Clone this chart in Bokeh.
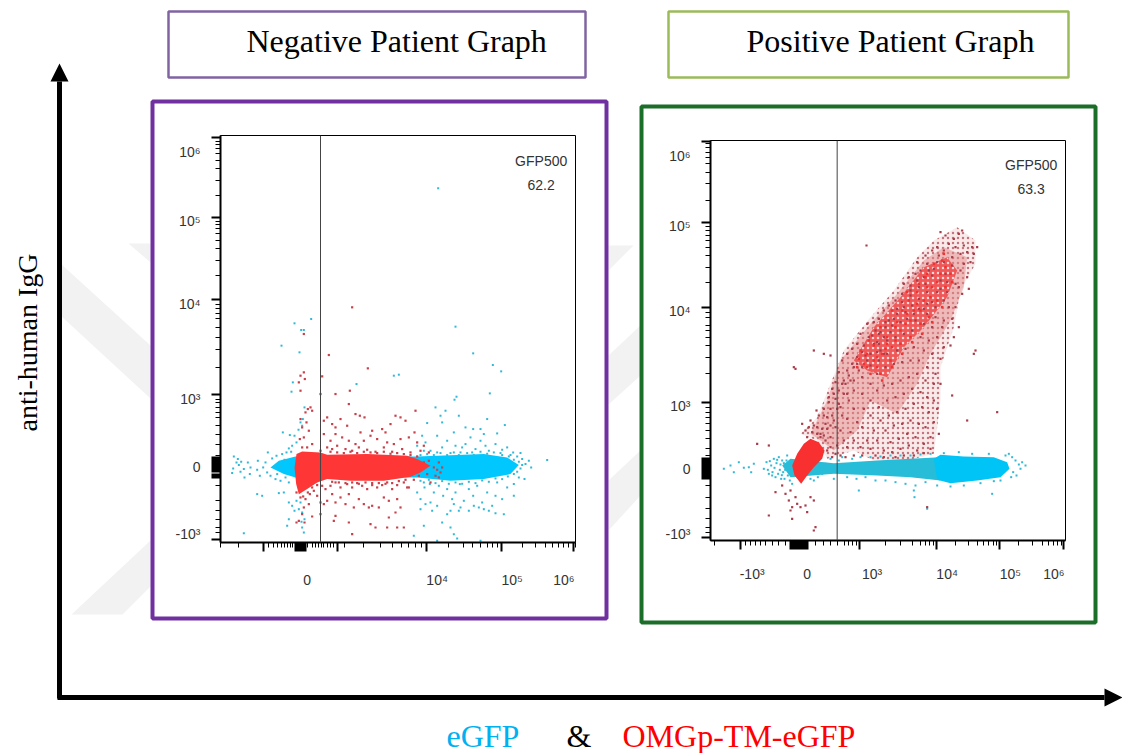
from bokeh.plotting import figure
from bokeh.models import Range1d, Arrow, NormalHead, LinearAxis, FixedTicker, Span, Label
from bokeh.embed import file_html
from bokeh.resources import INLINE

# Display-channel units (biexponential display scale).
NEG_X_MAJOR = [130, 225, 228, 231, 234, 237, 240, 243, 246, 249, 252, 255, 352, 618, 843, 1060]
NEG_X_MINOR = [0, 55, 145, 160, 172, 183, 192, 201, 210, 217, 262, 275, 285, 295, 303, 310, 320, 330, 340, 372, 430, 480, 515, 542, 565, 585, 602, 685, 730, 755, 780, 800, 815, 830, 905, 945, 975, 995, 1015, 1030, 1045, 1065]
NEG_Y_MAJOR = [10, 195, 200, 205, 212, 216, 222, 226, 232, 237, 243, 250, 255, 443, 727, 975, 1215]
NEG_Y_MINOR = [30, 45, 70, 95, 125, 170, 260, 295, 325, 350, 375, 390, 405, 420, 430, 525, 580, 615, 645, 670, 685, 700, 713, 800, 845, 880, 905, 925, 940, 953, 963, 1040, 1085, 1120, 1145, 1165, 1180, 1193, 1203]
POS_X_MAJOR = [90, 240, 244, 248, 252, 256, 262, 266, 270, 276, 280, 284, 290, 448, 677, 867, 1058]
POS_X_MINOR = [12, 105, 120, 135, 150, 165, 185, 205, 225, 315, 338, 360, 380, 402, 415, 427, 438, 525, 570, 605, 630, 645, 658, 668, 735, 775, 800, 820, 835, 848, 858, 925, 965, 995, 1015, 1030, 1042, 1052]
POS_Y_MAJOR = [10, 185, 190, 196, 202, 206, 212, 218, 224, 228, 234, 240, 245, 415, 698, 953, 1198]
POS_Y_MINOR = [25, 40, 65, 95, 130, 165, 255, 275, 305, 330, 350, 370, 385, 400, 500, 550, 585, 610, 630, 645, 670, 685, 775, 820, 855, 880, 900, 915, 930, 942, 1020, 1070, 1105, 1130, 1150, 1165, 1180, 1190]

NEG_X_LABELS = {260: "0", 650: "10⁴", 875: "10⁵", 1030: "10⁶"}
NEG_Y_LABELS = {1170: "10⁶", 963: "10⁵", 715: "10⁴", 430: "10³", 227: "0", 25: "-10³"}
POS_X_LABELS = {125: "-10³", 290: "0", 485: "10³", 710: "10⁴", 900: "10⁵", 1030: "10⁶"}
POS_Y_LABELS = {1155: "10⁶", 945: "10⁵", 690: "10⁴", 405: "10³", 215: "0", 20: "-10³"}
NEG_GATE = 300
POS_GATE = 380
NEG_STAT = ["GFP500", "62.2"]
POS_STAT = ["GFP500", "63.3"]

# Solid, saturated parts of each population, outlined from the picture.
NEG_BLUE_CORE = [(150,225),(175,245),(225,258),(590,258),(790,265),(860,255),(895,232),(870,205),(790,190),(690,185),(590,195),(225,195),(190,205)]
NEG_RED_CORE = [(222,225),(228,265),(245,273),(300,270),(320,263),(440,265),(560,260),(590,250),(630,230),(600,210),(570,197),(490,185),(390,185),(320,190),(290,180),(260,160),(235,145),(227,175)]
POS_BLUE_BAND = [(215,225),(240,245),(370,232),(500,240),(600,245),(690,250),(690,180),(600,190),(500,195),(370,200),(240,190)]
POS_BLUE_CORE = [(670,245),(690,257),(760,252),(850,250),(890,235),(897,215),(870,190),(800,180),(720,172),(680,182)]
POS_RED_CORE = [(245,225),(260,260),(280,290),(300,305),(325,295),(342,270),(335,245),(310,220),(290,195),(272,170),(252,195)]
POS_RED_CLOUD = [(270,320),(320,370),(360,470),(400,570),(480,670),(550,750),(620,850),(670,900),(740,940),(795,900),(795,830),(750,750),(730,640),(690,520),(690,420),(670,260),(590,240),(490,240),(430,270),(350,245),(320,300)]
POS_RED_MID = [(300,320),(350,420),(390,540),(480,650),(560,740),(640,840),(700,880),(770,850),(760,760),(720,660),(660,560),(620,470),(560,380),(480,420),(440,330),(370,270),(330,300)]
POS_RED_DENSE = [(430,540),(490,640),(570,730),(640,820),(710,850),(740,810),(710,730),(640,640),(580,580),(530,490),(470,510)]

NEG_BLUE = [(653,1062),(705,647),(758,567),(817,532),(842,513),(808,447),(222,657),(272,670),(242,637),(250,637),(183,590),(237,570),(408,475),(520,500),(535,503),(217,480),(213,452),(708,437),(702,428),(645,405),(675,395),(660,380),(665,360),(715,380),(620,358),(800,370),(853,352),(758,340),(780,340),(830,327),(187,330),(208,322),(222,320),(234,338),(240,360),(247,370),(252,405),(245,350),(228,300),(215,290),
(40,258),(52,250),(48,240),(38,222),(35,208),(55,232),(62,242),(70,220),(60,212),(72,195),(90,225),(88,205),(82,240),(110,218),(112,245),(118,200),(128,225),(135,240),(140,210),(142,270),(155,252),(162,228),(168,260),(170,205),(178,230),(185,265),(192,248),(198,270),(205,282),(212,272),(150,200),(165,190),(180,185),(195,195),(205,180),(190,150),(175,148),(110,145),(125,140),(205,120),(215,110),(222,95),(70,28),(200,50),(205,70),(228,125),(235,100),(240,120),(245,90),(252,70),(243,62),(250,30),(245,45),
(590,290),(615,300),(630,275),(650,320),(665,285),(680,305),(700,330),(705,290),(720,270),(735,295),(750,315),(765,280),(780,305),(795,290),(805,275),(825,295),(840,268),(860,285),(878,270),(890,258),(905,250),(925,245),(932,225),(915,235),(900,268),(870,262),(845,278),(755,270),(725,285),(690,268),(610,275),(650,270),(790,325),(735,345),(605,320),(980,247),
(600,185),(612,165),(628,175),(640,150),(655,170),(668,140),(680,160),(695,130),(705,150),(718,175),(730,125),(745,160),(758,140),(770,170),(785,120),(800,150),(815,110),(830,180),(845,130),(860,165),(880,175),(895,195),(912,190),(630,120),(615,115),(600,100),(650,110),(690,95),(700,115),(715,95),(680,85),(720,105),(775,105),(790,100),(805,95),(825,88),(850,85),(610,50),(690,45),(580,20),(650,5),(780,5),(700,25),(710,12),(600,130),(635,95),(665,60),(590,150),(880,140),(825,140),(760,110),(745,95),
(600,262),(620,265),(640,262),(660,268),(680,262),(700,270),(715,262),(740,268),(760,262),(780,272),(800,266),(820,270),(845,262),(865,258),(880,248),(895,242),(905,232),(900,222),(890,212),(880,205),(862,198),(845,190),(825,192),(805,182),(785,186),(765,178),(745,182),(725,176),(705,180),(685,176),(665,184),(645,178),(625,188),(610,180)]

NEG_RED = [(395,705),(250,625),(325,562),(442,522),(305,498),(300,445),(250,510),(240,500),(235,480),(253,490),(240,455),(345,445),(388,455),(385,415),(405,385),(418,380),(432,375),(270,405),(262,400),(255,390),(275,395),(240,370),(245,345),(258,360),(265,335),(250,315),(238,310),(320,375),(310,365),(335,355),(345,345),(360,370),(380,350),(525,380),(540,375),(555,365),(510,355),(585,395),(485,340),(455,335),(495,330),(450,320),(470,310),(420,330),(345,325),(310,325),(330,305),(365,315),(385,305),(405,295),(430,305),(500,300),(520,295),(540,310),(565,315),(582,330),(590,300),(610,290),(625,270),(350,290),(320,285),(335,280),(300,275),(375,280),(395,275),(415,285),(440,278),(465,272),(490,285),(515,272),(545,280),(570,270),(600,275),(260,285),(275,295),(245,285),
(240,135),(228,150),(255,130),(268,145),(280,155),(265,115),(250,105),(245,85),(235,65),(228,60),(252,60),(275,78),(290,140),(300,120),(305,170),(315,160),(330,170),(345,180),(360,165),(380,175),(395,165),(410,178),(425,170),(440,160),(455,178),(470,165),(485,172),(500,180),(515,160),(530,172),(550,180),(565,165),(580,188),(595,200),(320,125),(335,145),(345,120),(360,135),(375,115),(385,145),(400,105),(415,130),(430,115),(445,105),(455,110),(475,105),(490,135),(505,125),(530,130),(540,105),(560,165),(345,80),(340,65),(385,60),(395,25),(465,45),(450,55),(500,45),(530,45),(550,45),(505,75),(525,90),(310,115),(300,85),(640,225),(650,218),(660,210),(645,200),(620,205),(610,240),(625,245),(665,225),(655,195),(630,180),(655,240),
(330,272),(350,270),(370,268),(390,272),(410,268),(430,272),(450,270),(470,268),(490,272),(510,266),(530,268),(550,265),(570,262),(590,258),(335,182),(355,180),(375,178),(395,180),(415,176),(435,180),(455,172),(475,178),(495,176),(515,178),(535,184),(555,188),(290,172),(275,165),(262,150),(248,138)]

POS_BLUE = [(60,225),(70,205),(85,235),(100,218),(115,220),(130,230),(122,205),(40,215),(160,215),(168,235),(175,200),(182,225),(190,245),(195,190),(205,250),(215,240),(222,185),(230,255),(238,180),(245,170),(300,185),(310,180),(322,190),(335,200),(345,230),(360,245),(370,185),(385,240),(395,250),(410,190),(425,245),(438,185),(450,250),(465,190),(480,250),(495,180),(510,252),(525,180),(540,255),(555,175),(570,255),(585,170),(600,255),(615,165),(630,258),(645,175),(660,260),(680,165),(700,262),(720,162),(745,265),(760,165),(785,260),(810,172),(835,260),(850,178),(870,180),(885,255),(905,250),(915,240),(925,228),(930,215),(918,195),(902,190),(908,205),(935,235),(945,225),(895,260),(845,140),(610,150),(612,130),(650,95),(445,150),
(172,212),(178,238),(186,205),(192,218),(198,232),(203,200),(208,212),(210,228),(214,196),(218,205),(220,232),(224,212),(228,240),(232,195),(185,195),(200,242),(212,185)]

POS_RED = [(468,885),(800,880),(510,570),(520,560),(340,560),(310,570),(250,520),(255,515),(360,555),(790,560),(795,570),(725,435),(860,385),(770,360),(310,30),(315,40),(650,100),(175,285),(140,290),(175,75),(245,100),(240,90),(235,120),(260,110),(270,100),(285,105),(225,140),(240,150),(255,130),(215,165),(195,145),(300,130),(310,120),(290,85),(245,65),
(690,925),(705,915),(730,905),(745,920),(755,930),(735,880),(715,890),(760,885),(785,880),(790,860),(770,865),(750,860),(725,850),(780,835),(760,830),(700,870),(680,880),(665,870),(645,855),(620,835),(650,830),(680,835),(705,800),(735,770),(745,760),(755,740),(770,790),(775,755),(710,775),(690,780),(665,795),(640,790),(615,800),(595,790),(580,770),(600,765),(625,760),(650,745),(680,745),(700,720),(715,700),(725,665),(735,700),(745,640),(730,610),(720,585),(700,660),(675,700),(650,710),(625,725),(600,735),(575,740),(555,720),(535,705),(520,690),(505,665),(490,655),(470,650),(450,620),(440,590),(425,575),(410,560),(395,540),(385,505),(375,475),(365,455),(355,430),(340,395),(325,375),(310,345),
(560,695),(580,700),(605,705),(625,695),(650,680),(675,670),(695,640),(665,640),(640,650),(615,660),(590,665),(570,655),(545,645),(525,640),(505,620),(485,615),(460,585),(440,550),(425,530),(410,510),(400,480),(385,450),(375,425),(360,395),(350,370),(335,335),(320,320),(350,335),(370,360),(390,400),(410,440),(430,480),(455,520),(480,560),(505,590),(530,600),(555,610),(580,620),(605,630),(630,610),(655,600),(680,610),(700,580),(690,545),(665,560),(640,570),(610,580),(585,575),(560,570),(530,560),(505,540),(480,525),(455,490),(430,450),(415,420),(395,375),(375,340),(360,310),(390,330),(410,365),(430,395),(455,440),(480,470),(500,500),(525,520),(550,530),(575,535),(600,540),(625,540),(650,520),(675,500),(690,470),(670,470),(645,480),(620,500),(595,490),(570,480),(545,470),(520,465),(500,450),(480,420),(460,395),(440,355),(420,325),(400,300),(380,285),(410,280),(430,300),(455,340),(480,375),(505,400),(530,420),(555,430),(580,440),(605,455),(630,445),(650,430),(670,420),(680,395),(655,385),(635,400),(610,410),(585,395),(560,385),(535,375),(510,360),(490,330),(470,300),(450,280),(430,255),(455,255),(480,275),(500,300),(525,330),(550,345),(575,350),(600,360),(625,350),(645,340),(670,355),(685,320),(660,310),(640,290),(615,310),(590,320),(565,305),(540,295),(520,270),(495,255),(520,250),(545,265),(570,275),(595,285),(620,270),(640,262),(660,275),(610,255),(580,255),(555,250),
(500,595),(520,610),(540,625),(500,565),(470,540),(445,510),(420,480),(400,440),(385,410),(365,375),(345,350),(330,320),(305,325),(295,340),(285,330),(275,350),(300,360),(318,390),(340,375),(355,415),(370,440),(395,470),(415,495),(440,530),(465,555),(490,590),(510,625),(535,660),(560,680),(585,685),(610,680),(640,695),(665,715),(690,755),(710,745),(645,770),(620,780),(670,815),(700,835),(725,825),(750,810),(685,855),(655,810),(630,810),(600,750),(575,715),(550,665),(525,655),(495,630),(475,610),(455,565),(430,520),(405,470),(380,395),(360,345),(340,315),(320,340),(290,310),(345,300),(360,280),(375,260),(390,255),(405,250),(330,310),(350,270),(365,250)]

POS_RED_BRIGHT = [(445,545),(470,560),(490,585),(500,520),(515,560),(530,610),(555,640),(575,690),(595,720),(620,745),(645,790),(670,830),(695,840),(720,800),(705,760),(680,720),(655,670),(630,650),(600,610),(570,590),(540,540),(510,500),(480,500),(460,530),(490,540),(525,575),(555,600),(585,650),(610,690),(640,720),(665,760),(690,800),(650,760),(620,710),(590,680),(560,655),(530,590),(500,550),(470,520),(440,520),(545,580),(570,630),(600,660),(630,690),(660,730),(680,775),(705,820),(725,775),(695,700),(665,655),(635,620),(605,595),(575,560),(545,520),(515,480),(700,860),(650,800),(625,770),(590,745),(545,690),(510,640),(475,600),(450,570)]

bg = figure(width=1122, height=753, output_backend="svg", toolbar_location=None, x_range=Range1d(0, 1122), y_range=Range1d(753, 0), min_border=0, x_axis_type=None, y_axis_type=None, outline_line_color=None, background_fill_color="white", border_fill_color="white",
            styles={"position": "absolute", "left": "0px", "top": "0px"})
bg.grid.visible = False

for poly_ in [[(60,263),(150,345),(150,398),(60,315)], [(128,243),(150,243),(150,262)], [(71,614),(122,614),(150,586),(150,540)],
              [(608,245),(633,245),(608,270)], [(608,355),(640,325),(640,375),(608,404)], [(608,480),(640,450),(640,495),(608,530)]]:
    bg.patch([q[0] for q in poly_], [q[1] for q in poly_], fill_color="#f2f2f2", line_color=None)


def box(l, r, t, b, colour, width):
    bg.quad(left=[l], right=[r], top=[t], bottom=[b], fill_color=None, line_color=colour, line_width=width)


box(168, 585, 11, 77, "#8064a2", 2.5)
box(668, 1068, 11, 77, "#9bbb59", 2.5)
box(152, 606, 101, 618, "#7030a0", 4)
box(641, 1095, 106, 622, "#1b6e28", 4)

for (x0, y0, x1, y1) in [(59, 698, 59, 63), (57, 697, 1122, 697)]:
    bg.add_layout(Arrow(end=NormalHead(size=18, fill_color="black", line_color="black", line_width=0),
                        x_start=x0, y_start=y0, x_end=x1, y_end=y1, line_color="black", line_width=5))

SERIF = "Liberation Serif"
for txt, x, y, colour, size, angle in [("Negative Patient Graph", 246, 40, "black", 32, 0),
                                       ("Positive Patient Graph", 746, 40, "black", 32, 0),
                                       ("anti-human IgG", 27, 431, "black", 28, 1.5708),
                                       ("eGFP", 446, 735, "#00b0f0", 32, 0),
                                       ("&", 566, 735, "black", 32, 0),
                                       ("OMGp-TM-eGFP", 622, 735, "#ff0000", 32, 0)]:
    bg.add_layout(Label(x=x, y=y, text=txt, text_font=SERIF, text_font_size=f"{size}px", text_color=colour, angle=angle, text_baseline="alphabetic"))


def pts(p, data, colour, size=2.0, alpha=1.0):
    p.scatter([q[0] for q in data], [q[1] for q in data], marker="square", size=size, fill_color=colour, line_color=None, fill_alpha=alpha)


def poly(p, data, colour, alpha=1.0, **kw):
    p.patch([q[0] for q in data], [q[1] for q in data], fill_color=colour, line_color=None, fill_alpha=alpha, **kw)


def panel(left, top, w, h, lft, rgt, tp, bot, ymax, xmaj, xmin_, ymaj, ymin_, xlabels, ylabels, xstand, gate, stat, stat_v):
    p = figure(width=w, height=h, output_backend="svg", toolbar_location=None, x_range=Range1d(0, 1065), y_range=Range1d(0, ymax),
               min_border_left=lft, min_border_right=rgt, min_border_top=tp, min_border_bottom=bot,
               x_axis_type=None, y_axis_type=None, outline_line_color="black", outline_line_width=1,
               styles={"position": "absolute", "left": f"{left}px", "top": f"{top}px"})
    p.grid.visible = False
    for side, maj, mn in [("below", xmaj, xmin_), ("left", ymaj, ymin_)]:
        ax = LinearAxis(ticker=FixedTicker(ticks=maj, minor_ticks=mn), major_label_overrides={t: "" for t in maj},
                        major_label_text_font_size="0px", major_label_standoff=0,
                        axis_line_color="black", axis_line_width=2, major_tick_line_color="black", major_tick_line_width=2,
                        major_tick_out=9, major_tick_in=0, minor_tick_line_color="black", minor_tick_line_width=1, minor_tick_out=5, minor_tick_in=0)
        p.add_layout(ax, side)
    for side, labels, stand in [("below", xlabels, xstand), ("left", ylabels, 5)]:
        ax = LinearAxis(ticker=FixedTicker(ticks=list(labels), minor_ticks=[]), major_label_overrides=labels,
                        major_label_text_font="Liberation Sans", major_label_text_font_size="14px", major_label_text_color="#333333",
                        major_label_standoff=stand, axis_line_color=None, major_tick_line_color=None, minor_tick_line_color=None)
        p.add_layout(ax, side)
    p.add_layout(Span(location=gate, dimension="height", line_color="#444444", line_width=1))
    for t, v in zip(stat, stat_v):
        p.add_layout(Label(x=962, y=v, text=t, text_font="Liberation Sans", text_font_size="14px", text_color="#333333", text_align="center", text_baseline="middle"))
    return p


neg = panel(156, 105, 446, 509, 64, 27, 30, 72, 1220, NEG_X_MAJOR, NEG_X_MINOR, NEG_Y_MAJOR, NEG_Y_MINOR, NEG_X_LABELS, NEG_Y_LABELS, 14, NEG_GATE, NEG_STAT, [1143, 1073])
poly(neg, NEG_BLUE_CORE, "#00c8ff")
pts(neg, NEG_BLUE, "#2fb9d6")
pts(neg, NEG_RED, "#c8404a", 2.2)
poly(neg, NEG_RED_CORE, "#ff3636")

pos = panel(645, 110, 446, 508, 65, 26, 30, 78, 1200, POS_X_MAJOR, POS_X_MINOR, POS_Y_MAJOR, POS_Y_MINOR, POS_X_LABELS, POS_Y_LABELS, 10, POS_GATE, POS_STAT, [1127, 1055])
poly(pos, POS_RED_CLOUD, "#f9eaea", 1.0, hatch_pattern="dot", hatch_color="#c4747c", hatch_scale=5, hatch_weight=1)
poly(pos, POS_RED_MID, "#e58a8a", 0.5)
poly(pos, POS_RED_DENSE, "#ee4040", 0.8, hatch_pattern="dot", hatch_color="#ffd8d8", hatch_scale=5, hatch_weight=1)
poly(pos, POS_BLUE_BAND, "#27bcd8")
poly(pos, POS_BLUE_CORE, "#00c4f5")
pts(pos, POS_BLUE, "#2fb9d6")
pts(pos, POS_RED, "#a83d4a", 2.2)
pts(pos, POS_RED_BRIGHT, "#f03434", 2.5)
poly(pos, POS_RED_CORE, "#f93030")

open("out.html", "w").write(file_html([bg, neg, pos], INLINE))
